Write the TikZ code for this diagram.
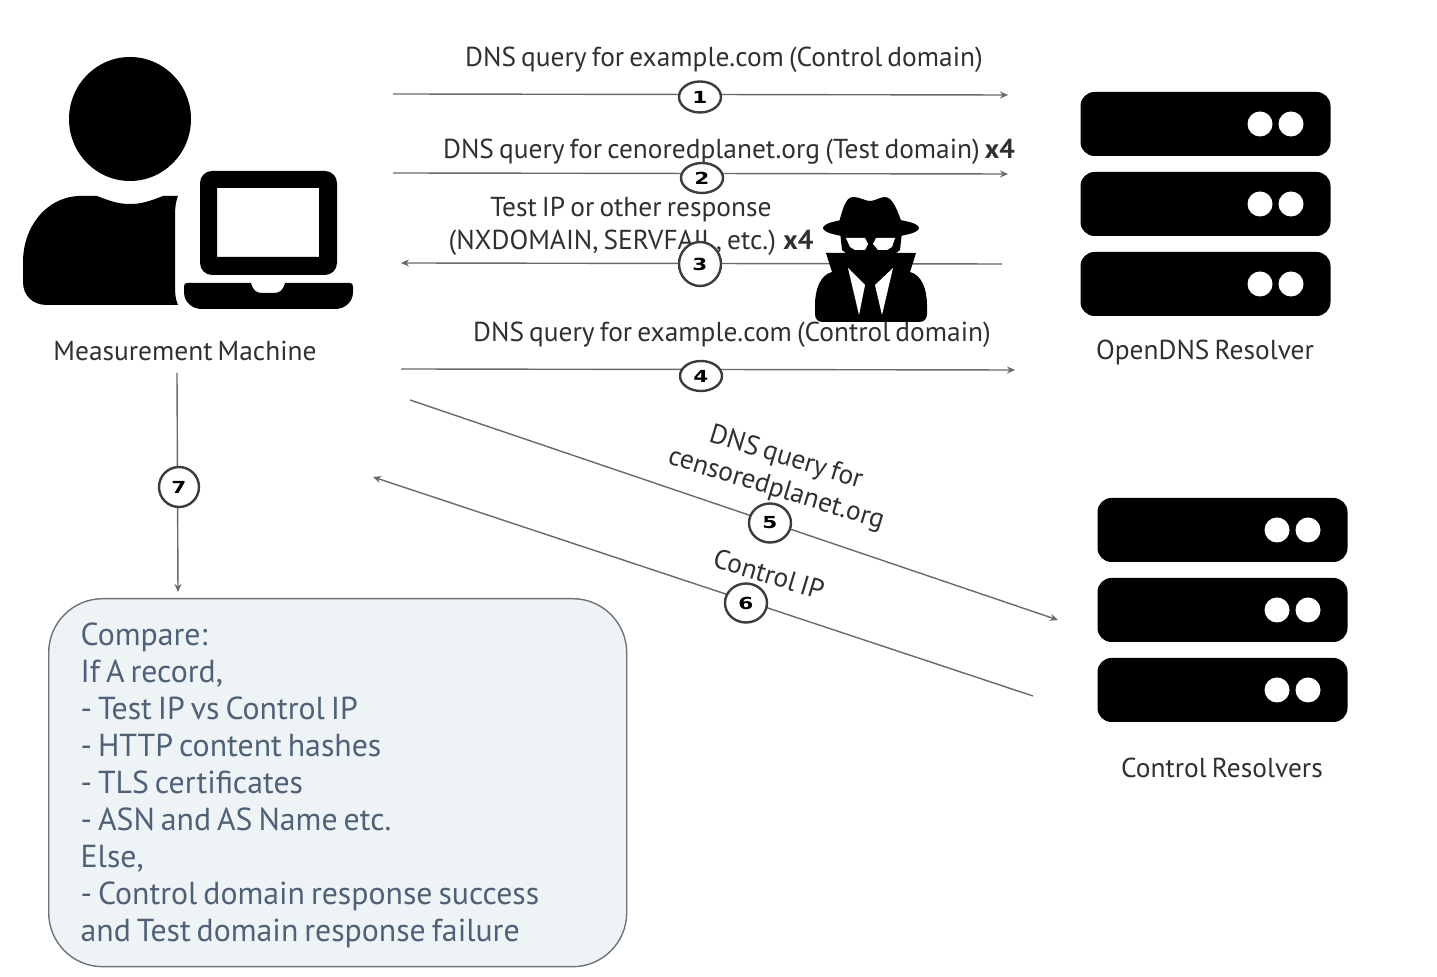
\documentclass[tikz,border=0pt]{standalone}
\usepackage{fontspec}
\setmainfont[WordSpace=0.7]{PT Sans}
\newfontfamily\numfont[FakeStretch=1.3]{DejaVu Sans}
\usetikzlibrary{positioning,arrows.meta,shapes.geometric}
\definecolor{wirec}{RGB}{105,105,105}
\definecolor{ringc}{RGB}{60,60,60}
\definecolor{labelc}{RGB}{48,48,52}
\definecolor{boxfill}{RGB}{238,243,246}
\definecolor{boxline}{RGB}{110,115,120}
\definecolor{boxtext}{RGB}{78,97,120}
\tikzset{
  flow/.style={-{Stealth[length=4pt,width=3.5pt]}, line width=0.7pt, wirec},
  numc/.style={ellipse, draw=ringc, line width=1.2pt, fill=white, inner sep=0pt, outer sep=0pt,
               minimum width=21pt, font=\numfont\bfseries\fontsize{8.3}{9}\selectfont},
  lbl/.style={font=\fontsize{13.7}{16.5}\selectfont, text=labelc, inner sep=0pt, align=flush center},
  srv/.style={rectangle, fill=black, rounded corners=7pt, inner sep=0pt,
              minimum width=125pt, minimum height=32pt},
  srvdot/.style={circle, fill=white, inner sep=0pt, minimum size=12.5pt},
  comparebox/.style={rectangle, draw=boxline, fill=boxfill, line width=0.7pt, rounded corners=27pt,
                     anchor=north west, minimum width=289pt, minimum height=184pt,
                     text width=257pt, align=flush left, inner sep=0pt, text=boxtext,
                     font=\fontsize{15.9}{18.5}\selectfont}
}
\begin{document}
\begin{tikzpicture}[x=0.5pt,y=-0.5pt]
\useasboundingbox (0,0) rectangle (1437,977);
% person and laptop
\fill (130,119) ellipse [x radius=61, y radius=62];
\fill (178,196) -- (163,196) .. controls (150,201) and (142,204) .. (130,204)
  .. controls (118,204) and (110,201) .. (97,196) -- (78,196)
  .. controls (45,198) and (23,228) .. (23,262) -- (23,282)
  .. controls (23,296) and (33,305) .. (47,305) -- (178,305)
  .. controls (175,298) and (175,292) .. (175,285) -- (175,215)
  .. controls (175,207) and (176,201) .. (178,196) -- cycle;
\fill[rounded corners=6pt, even odd rule] (200,275) -- (200,171) -- (337,171) -- (337,275) -- cycle
  [sharp corners] (217,188) rectangle (319,257);
\fill (184,287) .. controls (184,284) and (185,283) .. (187,283) -- (251,283)
  .. controls (253,290) and (256,293) .. (262,293) -- (274,293)
  .. controls (280,293) and (283,290) .. (285,283) -- (350,283)
  .. controls (352,283) and (353,284) .. (353,287) -- (353,292)
  .. controls (353,302) and (345,309) .. (335,309) -- (202,309)
  .. controls (192,309) and (184,302) .. (184,292) -- cycle;
\node[lbl] (machine) at (185,351) {Measurement Machine};
% resolvers
\foreach \y/\n in {124/a,204/b,284/c} {
  \node[srv] (open\n) at (1205.5,\y) {};
  \node[srvdot] (open\n l) at (1260,\y) {};
  \node[srvdot] (open\n r) at (1291,\y) {};
}
\foreach \y/\n in {530/a,610/b,690/c} {
  \node[srv] (ctl\n) at (1222.5,\y) {};
  \node[srvdot] (ctl\n l) at (1277,\y) {};
  \node[srvdot] (ctl\n r) at (1308,\y) {};
}
\node[lbl] (openlbl) at (1205,352) {OpenDNS Resolver};
\node[lbl] (ctllbl) at (1222,768) {Control Resolvers};
% connector ends
\coordinate (a1) at (393,94);   \coordinate (b1) at (1008,95);
\coordinate (a2) at (393,173);  \coordinate (b2) at (1008,174);
\coordinate (a3) at (1002,264); \coordinate (b3) at (401,263);
\coordinate (a4) at (401,369);  \coordinate (b4) at (1015,370);
\coordinate (a5) at (410,400);  \coordinate (b5) at (1058,620);
\coordinate (a6) at (1033,696); \coordinate (b6) at (373,477);
\coordinate (a7) at (177,373);  \coordinate (b7) at (178,592);
\draw[flow] (a1) -- (b1);
\draw[flow] (a2) -- (b2);
\draw[flow] (a3) -- (b3);
\draw[flow] (a4) -- (b4);
\draw[flow] (a5) -- (b5);
\draw[flow] (a6) -- (b6);
\draw[flow] (a7) -- (b7);
% labels on the wires
\node[lbl] (t1) at (724,60) {DNS query for example.com (Control domain)};
\node[lbl] (t2) at (729,152) {DNS query for cenoredplanet.org (Test domain) \textbf{x4}};
\node[lbl] (t3) at (631,226) {Test IP or other response\\(NXDOMAIN, SERVFAIL, etc.) \textbf{x4}};
% spy
\fill (826,253) -- (916,253) -- (910,272) .. controls (922,275) and (927,290) .. (927,305)
  -- (927,314) .. controls (927,319) and (924,322) .. (919,322) -- (823,322)
  .. controls (818,322) and (815,319) .. (815,314) -- (815,305)
  .. controls (815,290) and (820,275) .. (832,272) -- cycle;
\fill (840,232) -- (902,232) -- (900,250) -- (890,258) -- (852,258) -- (842,250) -- cycle;
\fill (871,228) ellipse [x radius=48, y radius=10];
\fill (838,226) .. controls (842,212) and (845,197) .. (853,197) .. controls (860,197) and (865,201) .. (870,201)
  .. controls (875,201) and (880,197) .. (885,197) .. controls (893,197) and (898,212) .. (903,226) -- cycle;
\fill[white] (846,238) -- (865,238) -- (868,244) -- (865,250) -- (855,250) -- (850,247) -- cycle;
\fill[white] (895,238) -- (876,238) -- (873,244) -- (878,250) -- (887,250) -- (892,247) -- cycle;
\fill[white] (848,268) -- (865,285) -- (859,315) -- cycle;
\fill[white] (893,268) -- (875,285) -- (882,315) -- cycle;
\node[lbl] (t4) at (732,335) {DNS query for example.com (Control domain)};
\node[lbl, rotate=-17] (t5) at (781,474) {DNS query for\\censoredplanet.org};
\node[lbl, rotate=-17] (t6) at (769,574) {Control IP};
% numbered rings
\node[numc, minimum height=15.5pt] (n1) at (700,97) {1};
\node[numc, minimum height=15pt] (n2) at (702,178) {2};
\node[numc, minimum height=22pt] (n3) at (700,264) {3};
\node[numc, minimum height=15pt] (n4) at (701,376) {4};
\node[numc, minimum height=19.5pt] (n5) at (770,523) {5};
\node[numc, minimum height=19.5pt] (n6) at (746,603) {6};
\node[numc, minimum height=20pt, minimum width=20pt] (n7) at (179,487) {7};
% compare box
\node[comparebox] (compare) at (48,598) {\rule{0pt}{14pt}Compare:\\If A record,\\- Test IP vs Control IP\\- HTTP content hashes\\- TLS certificates\\- ASN and AS Name etc.\\Else,\\- Control domain response success\\and Test domain response failure};
\end{tikzpicture}
\end{document}
